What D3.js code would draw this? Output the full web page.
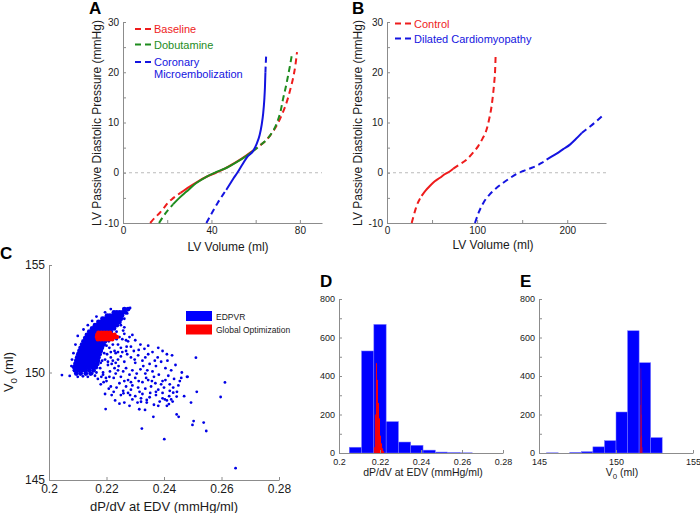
<!DOCTYPE html>
<html><head><meta charset="utf-8">
<script src="https://cdn.jsdelivr.net/npm/d3@7"></script>
<style>body{margin:0;background:#fff}svg{font-family:"Liberation Sans",Arial,sans-serif;display:block}</style>
</head><body><svg id="c" width="700" height="513"></svg>
<script>
// ---------- DATA ----------
// Panel A: LV volume (ml) vs passive diastolic pressure (mmHg)
const baselineCurve = [[12.3,-10],[14.5,-8.9],[16.6,-8.0],[18.5,-7.0],[20.3,-6.0],[22.3,-5.2],[24.1,-4.6],[26,-4.0],[30,-2.8],[34,-1.7],[38,-0.75],[42,0.0],[46,0.8],[50,1.8],[54,2.9],[58.5,4.3],[61.5,5.3],[64.8,6.5],[67,7.7],[69.5,9.4],[72,11.7],[74,14.0],[75.8,16.8],[77.0,19.0],[78.0,21.5],[78.7,24.0]];
const baselineSolid = [7, 15];
const dobutamineCurve = [[16.3,-10],[18.5,-8.5],[20.6,-7.3],[22.6,-6.3],[25.5,-5.0],[28.6,-3.8],[33,-2.1],[37.7,-0.8],[42,0.1],[46.7,0.95],[51,2.0],[55.7,3.3],[58.8,4.3],[62.5,5.6],[66.3,7.3],[68.5,8.8],[70.1,10.5],[71.3,12.3],[72.3,14.5],[73.5,16.8],[74.6,19.2],[75.6,21.5],[76.5,23.8]];
const dobutamineSolid = [3, 12];
const microembCurve = [[37.7,-10],[40.2,-8.0],[42.8,-6.0],[45,-4.5],[46.7,-3.4],[48.3,-2.3],[50,-1.1],[51.7,0.0],[53.5,1.3],[56.5,3.3],[58.8,4.3],[60.5,5.8],[61.8,7.5],[62.7,9.5],[63.4,11.8],[63.9,14.5],[64.2,17.0],[64.4,19.9],[64.6,22.0],[64.8,23.8]];
const microembSolid = [4, 17];
// Panel B
const controlCurve = [[27.4,-10],[29.5,-8.6],[31.8,-7.2],[34.2,-6.0],[36.5,-5.2],[38.4,-4.6],[43,-3.5],[47.7,-2.6],[53,-1.7],[58.8,-1.0],[64,-0.3],[69.9,0.3],[73.5,0.8],[80,1.6],[88.3,2.6],[95,3.9],[101.2,5.3],[106,6.8],[110.5,8.6],[113.5,10.8],[116,13.2],[117.8,15.8],[119,18.0],[120,20.5],[120.5,23.2]];
const controlSolid = [5, 12];
const dcmCurve = [[97.6,-10],[102,-7.8],[106.9,-6.0],[114,-4.3],[121.7,-3.0],[129,-2.0],[136.5,-1.05],[144,-0.2],[151.3,0.35],[158.5,0.85],[166,1.4],[171.5,1.95],[177.1,2.6],[182.5,3.2],[188.2,3.8],[195.5,4.7],[203,5.6],[209.5,6.7],[216,7.9],[221,8.6],[225.3,9.2],[232,10.2],[238.2,11.2]];
const dcmSolid = [12, 18];
const volTicksA = [0,40,80], volMinorA = [20,60];
const volTicksB = [0,100,200], volMinorB = [50,150];
const presTicks = [-10,0,10,20,30], presMinor = [-5,5,15,25];

// Panel C: scatter dP/dV at EDV vs V0
const edpvrCoreRows = [
 [149.95,[0.2095,0.2110,0.2128,0.2145]],
 [150.1,[0.2090,0.2102,0.2115,0.2127,0.2140,0.2155]],
 [150.25,[0.2088,0.2098,0.2108,0.2118,0.2128,0.2138,0.2150,0.2163]],
 [150.4,[0.2092,0.2101,0.2110,0.2119,0.2128,0.2137,0.2146,0.2156,0.2168]],
 [150.55,[0.2095,0.2104,0.2113,0.2122,0.2131,0.2140,0.2149,0.2158,0.2170]],
 [150.7,[0.2098,0.2107,0.2116,0.2125,0.2134,0.2143,0.2152,0.2161,0.2172]],
 [150.85,[0.2102,0.2111,0.2120,0.2129,0.2138,0.2147,0.2156,0.2165,0.2176]],
 [151.0,[0.2106,0.2115,0.2124,0.2133,0.2142,0.2151,0.2160,0.2169,0.2180]],
 [151.15,[0.2110,0.2119,0.2128,0.2137,0.2146,0.2155,0.2164,0.2173,0.2184]],
 [151.3,[0.2115,0.2124,0.2133,0.2142,0.2151,0.2160,0.2169,0.2178,0.2190]],
 [151.45,[0.2120,0.2129,0.2138,0.2147,0.2156,0.2165,0.2174,0.2183,0.2195]],
 [151.6,[0.2126,0.2135,0.2144,0.2153,0.2162,0.2171,0.2180,0.2190,0.2200]],
 [151.75,[0.2132,0.2141,0.2150,0.2159,0.2168,0.2177,0.2186,0.2196,0.2207]],
 [151.9,[0.2140,0.2149,0.2158,0.2167,0.2176,0.2185,0.2194,0.2204,0.2215]],
 [152.05,[0.2150,0.2159,0.2168,0.2177,0.2186,0.2195,0.2204,0.2214,0.2226]],
 [152.2,[0.2160,0.2169,0.2178,0.2187,0.2196,0.2205,0.2214,0.2224,0.2236]],
 [152.35,[0.2172,0.2181,0.2190,0.2199,0.2208,0.2217,0.2226,0.2236,0.2245]],
 [152.5,[0.2186,0.2195,0.2204,0.2213,0.2222,0.2231,0.2241,0.2250]],
 [152.65,[0.2202,0.2212,0.2222,0.2232,0.2242,0.2254]],
 [152.8,[0.2226,0.2236,0.2246,0.2256,0.2266]],
 [152.95,[0.2262,0.2275]]
];
const edpvrEdge = [[0.2178,150.2],[0.2185,150.55],[0.2192,150.9],[0.2200,151.25],[0.2188,150.0],[0.2205,150.5],[0.2215,150.95],[0.2222,151.3],[0.2235,151.55],[0.2182,149.8],[0.2198,149.75],[0.2160,149.85],[0.2150,149.95],[0.2208,151.45],[0.2245,151.65],[0.2258,151.95],[0.2250,152.2],[0.2262,152.5],[0.2272,152.75],[0.2282,153.0],[0.2262,152.1],[0.2120,152.0],[0.2135,152.2],[0.2150,152.4],[0.2165,152.6],[0.2100,151.7],[0.2092,151.3],[0.2085,150.9],[0.2080,150.6],[0.2078,150.3],[0.2100,149.8],[0.2118,149.82],[0.2135,149.8],[0.2228,150.2],[0.2240,150.6],[0.2218,150.4],[0.2232,150.9],[0.2250,151.15],[0.2268,151.5],[0.2280,151.65],[0.2195,152.8],[0.2215,152.95]];
const edpvrSparse = [[0.2235,151.9],[0.2262,151.8],[0.2290,151.75],[0.2255,151.55],[0.2275,151.45],[0.2300,151.5],[0.2318,151.3],[0.2240,151.3],[0.2270,151.2],[0.2332,151.1],[0.2210,151.15],[0.2228,151.0],[0.2255,150.95],[0.2295,151.0],[0.2345,150.85],[0.2360,150.95],[0.2378,150.7],[0.2390,150.5],[0.2412,150.55],[0.2428,150.8],[0.2395,151.0],[0.2310,150.8],[0.2285,150.7],[0.2250,150.75],[0.2215,150.7],[0.2195,150.6],[0.2180,150.45],[0.2205,150.35],[0.2232,150.45],[0.2262,150.5],[0.2300,150.45],[0.2325,150.55],[0.2350,150.4],[0.2372,150.3],[0.2405,150.2],[0.2440,150.35],[0.2462,150.0],
 [0.2165,150.0],[0.2188,149.9],[0.2212,150.05],[0.2240,150.1],[0.2268,150.2],[0.2290,150.1],[0.2318,150.15],[0.2335,149.95],[0.2360,150.05],[0.2382,149.9],[0.2415,149.85],[0.2435,149.7],[0.2455,149.6],[0.2480,149.8],[0.2170,149.7],[0.2200,149.6],[0.2225,149.75],[0.2250,149.8],[0.2275,149.65],[0.2300,149.75],[0.2325,149.55],[0.2345,149.65],[0.2370,149.5],[0.2395,149.6],[0.2420,149.45],[0.2180,149.45],[0.2215,149.35],[0.2245,149.5],[0.2268,149.35],[0.2290,149.4],[0.2310,149.3],[0.2335,149.25],[0.2355,149.35],[0.2380,149.2],[0.2400,149.3],[0.2420,149.15],[0.2445,149.1],
 [0.2195,149.0],[0.2225,149.1],[0.2250,148.95],[0.2275,149.05],[0.2300,148.9],[0.2325,149.0],[0.2350,148.85],[0.2372,148.95],[0.2395,148.8],[0.2418,148.9],[0.2430,148.65],[0.2230,148.7],[0.2262,148.6],[0.2290,148.75],[0.2340,148.6],[0.2365,148.5],[0.2410,148.45],[0.2197,148.3],[0.2314,148.29],[0.2334,148.26],[0.2380,148.45],[0.2444,148.05],[0.2451,147.94],[0.2363,147.94],[0.2323,147.39],[0.2401,146.9],[0.2499,147.56],[0.2503,147.74],[0.2538,147.67],[0.2547,147.28],[0.2494,148.6],[0.2514,149.1],[0.2482,149.8],[0.2511,150.69],[0.2597,148.86],[0.2612,149.54],[0.2649,145.55],[0.2045,149.88],[0.2072,149.84],
 [0.2202,150.85],[0.2222,150.55],[0.2242,150.3],[0.2258,150.05],[0.2280,149.9],[0.2305,149.95],[0.2328,150.3],[0.2342,150.1],[0.2365,149.8],[0.2390,149.45],[0.2405,149.65],[0.2432,149.3],[0.2410,148.7],[0.2385,148.65],[0.2352,149.05],[0.2315,149.1],[0.2285,149.2],[0.2258,149.15],[0.2235,149.3],[0.2208,149.25],[0.2190,149.55],[0.2210,149.8],[0.2232,149.95],[0.2262,149.6],[0.2285,149.55],[0.2312,149.6],[0.2338,149.75],[0.2358,149.6],[0.2372,149.1],[0.2395,149.05],[0.2425,148.75],[0.2308,148.6],[0.2280,148.45],[0.2245,148.55],[0.2320,148.8],[0.2272,150.85],[0.2298,150.6],[0.2335,150.7],[0.2368,150.55],[0.2285,151.2],[0.2312,151.05],[0.2240,150.95],[0.2268,151.0],[0.2345,151.25],[0.2380,151.15],[0.2410,150.85],[0.2425,150.1],[0.2450,149.4],[0.2470,148.9],[0.2460,149.75],
 [0.2218,148.95],[0.2259,149.03],[0.2282,148.95],[0.2320,148.64],[0.2340,148.72],[0.2403,148.75],[0.2417,148.53],[0.2444,148.88],[0.2432,149.06]];
const globalOptRows = [
 [151.85,[0.2172,0.2182,0.2192,0.2202,0.2212]],
 [151.75,[0.2168,0.2178,0.2188,0.2198,0.2208,0.2218,0.2228]],
 [151.65,[0.2167,0.2177,0.2187,0.2197,0.2207,0.2217,0.2227,0.2236]],
 [151.55,[0.2170,0.2180,0.2190,0.2200,0.2210,0.2220]]
];
const slopeTicks = [0.2,0.22,0.24,0.26,0.28];
const v0Ticks = [145,150,155];
const countTicks = [0,200,400,600,800], countMinor = [100,300,500,700];

// Panel D: histogram of dP/dV at EDV
const slopeBinEdges = [0.205,0.211,0.217,0.223,0.229,0.235,0.241,0.247,0.253,0.259,0.265];
const slopeCounts = [30,530,668,163,57,40,15,5,2,1];
const slopeOptEdges = [0.2170,0.2175,0.2180,0.2185,0.2190,0.2195,0.2200,0.2205,0.2210,0.2215,0.2220];
const slopeOptCounts = [30,200,467,380,260,180,90,50,25,10];
// Panel E: histogram of V0
const v0BinEdges = [145.5,146.25,147.0,147.75,148.5,149.25,150.0,150.75,151.5,152.25,153.0];
const v0Counts = [1,0,3,7,32,64,213,635,469,80];
const v0OptEdges = [151.55,151.57,151.59,151.61,151.63,151.65,151.67,151.69,151.71];
const v0OptCounts = [20,80,250,440,380,200,90,30];

// ---------- DRAWING ----------
const svg = d3.select("#c");
const AX = "#8c8c8c", TX = "#1a1a1a";
const RED = "#ee1c1c", GREEN = "#1e8c1e", BLUE = "#1414e0";

function drawAxes(x, y, o) {
  const g = svg.append("g");
  const y0 = y.range()[0], x0 = x.range()[0];
  g.append("g").attr("transform", `translate(0,${y0})`)
    .call(d3.axisBottom(x).tickValues(o.xt).tickSizeInner(-3).tickSizeOuter(0).tickPadding(o.padX).tickFormat(d => String(d)));
  g.append("g").attr("transform", `translate(${x0},0)`)
    .call(d3.axisLeft(y).tickValues(o.yt).tickSizeInner(-3).tickSizeOuter(0).tickPadding(o.padY).tickFormat(d => String(d)));
  if (o.xm) g.append("g").attr("transform", `translate(0,${y0})`)
    .call(d3.axisBottom(x).tickValues(o.xm).tickSizeInner(-3).tickSizeOuter(0).tickFormat(() => ""))
    .select(".domain").remove();
  if (o.ym) g.append("g").attr("transform", `translate(${x0},0)`)
    .call(d3.axisLeft(y).tickValues(o.ym).tickSizeInner(-3).tickSizeOuter(0).tickFormat(() => ""))
    .select(".domain").remove();
  g.selectAll(".domain").attr("stroke", AX).attr("stroke-width", 1);
  g.selectAll(".tick line").attr("stroke", AX);
  g.selectAll("text").attr("fill", TX).attr("font-size", o.fs).attr("font-family", '"Liberation Sans",Arial,sans-serif');
  return g;
}

function curve(x, y, pts, solid, color) {
  const line = d3.line().x(d => x(d[0])).y(d => y(d[1])).curve(d3.curveMonotoneX);
  const segs = [[pts.slice(0, solid[0] + 1), true], [pts.slice(solid[0], solid[1] + 1), false], [pts.slice(solid[1]), true]];
  segs.forEach(([p, dashed]) => {
    svg.append("path").attr("d", line(p)).attr("fill", "none").attr("stroke", color)
      .attr("stroke-width", 2).attr("stroke-dasharray", dashed ? "6,4" : null);
  });
}

function zeroLine(x, y) {
  svg.append("line").attr("x1", x.range()[0]).attr("x2", x.range()[1]).attr("y1", y(0)).attr("y2", y(0))
    .attr("stroke", "#a8a8a8").attr("stroke-width", 0.8).attr("stroke-dasharray", "3,3");
}

function legendLine(x1, yy, color, lines) {
  svg.append("line").attr("x1", x1).attr("x2", x1 + 17).attr("y1", yy).attr("y2", yy)
    .attr("stroke", color).attr("stroke-width", 2).attr("stroke-dasharray", "6,4");
  lines.forEach((t, i) => svg.append("text").attr("x", x1 + 19).attr("y", yy + 4 + i * 11.5)
    .attr("fill", color).attr("font-size", 11).text(t));
}

function letter(t, x, y) {
  svg.append("text").attr("x", x).attr("y", y).attr("font-size", 17).attr("font-weight", "bold").attr("fill", "#000").text(t);
}

function label(t, x, y, fs, rot) {
  const el = svg.append("text").attr("text-anchor", "middle").attr("font-size", fs).attr("fill", TX)
    .attr("transform", `translate(${x},${y})` + (rot ? " rotate(-90)" : ""));
  if (t === "V0") {
    el.append("tspan").text("V");
    el.append("tspan").attr("dy", fs * 0.3).attr("font-size", fs * 0.75).text("0");
    el.append("tspan").attr("dy", -fs * 0.3).text(" (ml)");
  } else el.text(t);
}

// Panel A
const xA = d3.scaleLinear().domain([0, 90]).range([123, 322]);
const yP = d3.scaleLinear().domain([-10, 30]).range([223, 22]);
zeroLine(xA, yP);
drawAxes(xA, yP, {xt: volTicksA, xm: volMinorA, yt: presTicks, ym: presMinor, padX: 4, padY: 4, fs: 10});
curve(xA, yP, baselineCurve, baselineSolid, RED);
curve(xA, yP, dobutamineCurve, dobutamineSolid, GREEN);
curve(xA, yP, microembCurve, microembSolid, BLUE);
legendLine(135, 29, RED, ["Baseline"]);
legendLine(135, 44.5, GREEN, ["Dobutamine"]);
legendLine(135, 62, BLUE, ["Coronary", "Microembolization"]);
letter("A", 89, 14);
label("LV Volume (ml)", 228, 251, 12);
label("LV Passive Diastolic Pressure (mmHg)", 101, 123, 12, true);

// Panel B
const xB = d3.scaleLinear().domain([0, 243]).range([387, 606]);
zeroLine(xB, yP);
drawAxes(xB, yP, {xt: volTicksB, xm: volMinorB, yt: presTicks, ym: presMinor, padX: 4, padY: 4, fs: 10});
curve(xB, yP, controlCurve, controlSolid, RED);
curve(xB, yP, dcmCurve, dcmSolid, BLUE);
legendLine(395, 23.5, RED, ["Control"]);
legendLine(395, 38.5, BLUE, ["Dilated Cardiomyopathy"]);
letter("B", 352, 14);
label("LV Volume (ml)", 493, 249, 12);
label("LV Passive Diastolic Pressure (mmHg)", 362, 123, 12, true);

// Panel C
const xC = d3.scaleLinear().domain([0.2, 0.28]).range([49, 279]);
const yC = d3.scaleLinear().domain([145, 155]).range([480, 265]);
drawAxes(xC, yC, {xt: slopeTicks, yt: v0Ticks, padX: 4, padY: 4, fs: 12});
const corePts = edpvrCoreRows.flatMap(([v, xs]) => xs.map(s => [s, v]));
svg.append("g").selectAll("circle").data(corePts).join("circle")
  .attr("cx", d => xC(d[0])).attr("cy", d => yC(d[1])).attr("r", 2.4).attr("fill", "#0000ee");
svg.append("g").selectAll("circle").data(edpvrEdge.concat(edpvrSparse)).join("circle")
  .attr("cx", d => xC(d[0])).attr("cy", d => yC(d[1])).attr("r", 1.4).attr("fill", "#0000e6");
const optPts = globalOptRows.flatMap(([v, xs]) => xs.map(s => [s, v]));
svg.append("g").selectAll("circle").data(optPts).join("circle")
  .attr("cx", d => xC(d[0])).attr("cy", d => yC(d[1])).attr("r", 2.3).attr("fill", "#ff0000");
svg.append("rect").attr("x", 186).attr("y", 311).attr("width", 26).attr("height", 10).attr("fill", "#0000ff");
svg.append("rect").attr("x", 186).attr("y", 324.5).attr("width", 26).attr("height", 10).attr("fill", "#ff0000");
svg.append("text").attr("x", 216).attr("y", 319.5).attr("font-size", 8.5).attr("fill", TX).text("EDPVR");
svg.append("text").attr("x", 216).attr("y", 333).attr("font-size", 8.5).attr("fill", TX).text("Global Optimization");
letter("C", 0, 259);
label("dP/dV at EDV (mmHg/ml)", 164, 511, 13);
label("V0", 13, 372, 13, true);

// Histogram helper
function hist(x, y, edges, counts, fill, stroke) {
  svg.append("g").selectAll("rect").data(counts).join("rect")
    .attr("x", (d, i) => x(edges[i])).attr("width", (d, i) => x(edges[i + 1]) - x(edges[i]))
    .attr("y", d => y(d)).attr("height", d => y(0) - y(d))
    .attr("fill", fill).attr("stroke", stroke).attr("stroke-width", 0.5);
}

// Panel D
const xD = d3.scaleLinear().domain([0.2, 0.28]).range([339, 503]);
const yH = d3.scaleLinear().domain([0, 800]).range([453, 299]);
hist(xD, yH, slopeBinEdges, slopeCounts, "#0000ff", "#7a7aff");
hist(xD, yH, slopeOptEdges, slopeOptCounts, "#ff0000", "none");
drawAxes(xD, yH, {xt: slopeTicks, yt: countTicks, ym: countMinor, padX: 6, padY: 4, fs: 9});
letter("D", 320, 287);
label("dP/dV at EDV (mmHg/ml)", 423, 476, 10.5);

// Panel E
const xE = d3.scaleLinear().domain([145, 155]).range([539, 693]);
hist(xE, yH, v0BinEdges, v0Counts, "#0000ff", "#7a7aff");
hist(xE, yH, v0OptEdges, v0OptCounts, "#ff0000", "none");
drawAxes(xE, yH, {xt: v0Ticks, yt: countTicks, ym: countMinor, padX: 6, padY: 4, fs: 9});
letter("E", 520, 287);
label("V0", 622, 476, 10.5);
</script></body></html>
